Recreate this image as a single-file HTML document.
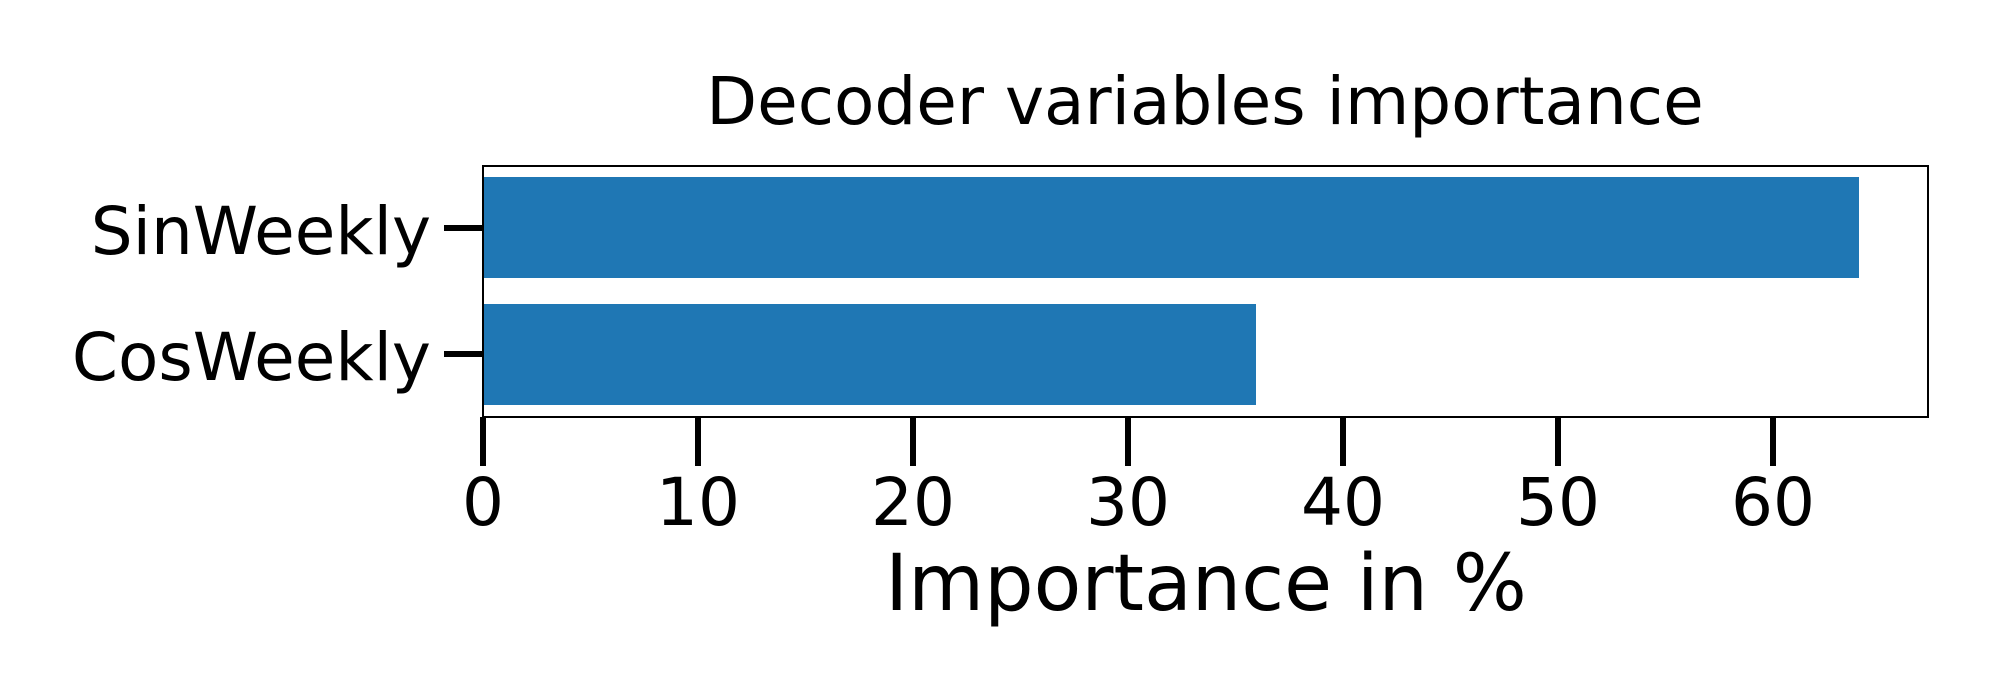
<!DOCTYPE html>
<html><head><meta charset="utf-8"><style>html,body{margin:0;padding:0;background:#fff}svg{display:block}</style></head>
<body>
<svg width="2000" height="700" viewBox="0 0 2000 700" xmlns="http://www.w3.org/2000/svg" font-family="DejaVu Sans, Liberation Sans, sans-serif">
<rect width="2000" height="700" fill="#fff"/>
<text x="1205" y="124" font-size="66" text-anchor="middle">Decoder variables importance</text>
<rect x="483" y="177" width="1376" height="101" fill="#1f77b4"/>
<rect x="483" y="304" width="773" height="101" fill="#1f77b4"/>
<rect x="483" y="166" width="1445" height="251" fill="none" stroke="#000" stroke-width="2"/>
<g stroke="#000" stroke-width="6">
<line x1="444" y1="228" x2="483" y2="228"/>
<line x1="444" y1="354" x2="483" y2="354"/>
<line x1="483" y1="417" x2="483" y2="466"/>
<line x1="698" y1="417" x2="698" y2="466"/>
<line x1="913" y1="417" x2="913" y2="466"/>
<line x1="1128" y1="417" x2="1128" y2="466"/>
<line x1="1343" y1="417" x2="1343" y2="466"/>
<line x1="1558" y1="417" x2="1558" y2="466"/>
<line x1="1773" y1="417" x2="1773" y2="466"/>
</g>
<g font-size="66" text-anchor="end">
<text x="431" y="254">SinWeekly</text>
<text x="431" y="380">CosWeekly</text>
</g>
<g font-size="66" text-anchor="middle">
<text x="483" y="525">0</text>
<text x="698" y="525">10</text>
<text x="913" y="525">20</text>
<text x="1128" y="525">30</text>
<text x="1343" y="525">40</text>
<text x="1558" y="525">50</text>
<text x="1773" y="525">60</text>
</g>
<text x="1206" y="610" font-size="78" text-anchor="middle">Importance in %</text>
</svg>
</body></html>
